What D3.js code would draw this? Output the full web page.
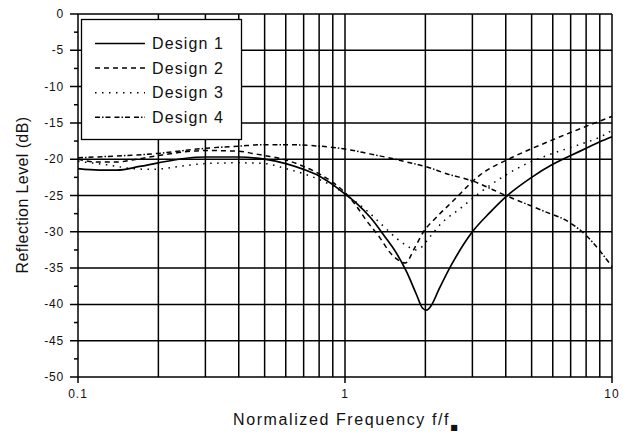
<!DOCTYPE html>
<html>
<head>
<meta charset="utf-8">
<script src="https://cdn.jsdelivr.net/npm/d3@7"></script>
<style>
  body { margin: 0; background: #fff; }
  text { font-family: "Liberation Sans", Arial, sans-serif; fill: #111; }
</style>
</head>
<body>
<div id="chart_div"></div>
<script>
// frequency (f/f0) and reflection level (dB)
var freq1 = [0.1, 0.12, 0.14, 0.17, 0.2, 0.25, 0.3, 0.4, 0.5, 0.6, 0.7, 0.8, 0.9, 1.0, 1.1, 1.25, 1.4, 1.55, 1.7, 1.85, 1.95, 2.02, 2.1, 2.25, 2.5, 3.0, 3.5, 4.0, 5.0, 6.0, 7.0, 8.0, 9.0, 10];
var level1 = [-21.3, -21.5, -21.5, -21.0, -20.5, -19.9, -19.7, -19.7, -20.0, -20.6, -21.4, -22.3, -23.5, -24.8, -26.0, -28.1, -30.5, -32.8, -35.5, -38.6, -40.5, -40.8, -40.2, -37.9, -34.6, -30.0, -27.3, -25.2, -22.5, -20.7, -19.5, -18.5, -17.6, -16.9];

var freq2 = [0.1, 0.12, 0.14, 0.16, 0.2, 0.25, 0.3, 0.4, 0.45, 0.5, 0.6, 0.7, 0.8, 0.9, 1.0, 1.1, 1.2, 1.35, 1.47, 1.57, 1.68, 1.83, 1.96, 2.2, 2.5, 3.2, 4.26, 5.76, 7.6, 10];
var level2 = [-20.0, -20.4, -20.4, -20.1, -19.5, -19.0, -18.8, -18.9, -19.2, -19.5, -20.1, -21.0, -22.0, -23.2, -24.6, -26.4, -28.4, -30.8, -32.8, -33.8, -34.3, -32.1, -30.1, -28.0, -26.0, -22.2, -19.7, -17.6, -15.8, -14.1];

var freq3 = [0.1, 0.13, 0.16, 0.19, 0.25, 0.3, 0.4, 0.5, 0.6, 0.7, 0.8, 0.9, 1.0, 1.2, 1.4, 1.56, 1.7, 1.85, 1.95, 2.07, 2.3, 2.7, 3.2, 3.8, 4.8, 6.0, 7.4, 9.3, 10];
var level3 = [-20.3, -20.8, -21.3, -21.4, -20.9, -20.6, -20.5, -20.6, -21.3, -22.0, -22.8, -23.7, -24.8, -27.0, -29.3, -30.9, -31.9, -32.5, -32.0, -30.8, -28.8, -26.8, -24.6, -22.7, -20.6, -19.2, -18.1, -16.7, -16.0];

var freq4 = [0.1, 0.15, 0.2, 0.25, 0.3, 0.4, 0.5, 0.6, 0.8, 1.0, 1.25, 1.5, 1.8, 2.0, 2.4, 3.0, 4.0, 5.5, 7.0, 8.0, 9.0, 10];
var level4 = [-19.8, -19.5, -19.2, -18.8, -18.5, -18.2, -18.0, -18.0, -18.2, -18.6, -19.3, -19.9, -20.6, -21.0, -22.0, -23.0, -25.0, -27.1, -28.8, -30.5, -32.6, -34.8];

var seriesNames = ["Design 1", "Design 2", "Design 3", "Design 4"];
var yTicks = [0, -5, -10, -15, -20, -25, -30, -35, -40, -45, -50];
var xLabels = [0.1, 1, 10];

var svg = d3.select("#chart_div").append("svg")
    .attr("width", 623)
    .attr("height", 433);

var x = d3.scaleLog().domain([0.1, 10]).range([78, 612]);
var y = d3.scaleLinear().domain([-50, 0]).range([377, 14]);

// grid
var grid = svg.append("g").attr("stroke", "#000").attr("stroke-width", 1.5);
grid.selectAll("line.v")
    .data(x.ticks())
    .enter().append("line")
    .attr("x1", function (d) { return x(d); })
    .attr("x2", function (d) { return x(d); })
    .attr("y1", y(0))
    .attr("y2", function (d) { return xLabels.indexOf(d) >= 0 ? y(-50) + 6 : y(-50); });
grid.selectAll("line.h")
    .data(yTicks)
    .enter().append("line")
    .attr("x1", 70)
    .attr("x2", x(10))
    .attr("y1", function (d) { return y(d); })
    .attr("y2", function (d) { return y(d); });
// minor y ticks
grid.selectAll("line.m")
    .data(yTicks.slice(1).map(function (d) { return d + 2.5; }))
    .enter().append("line")
    .attr("x1", 74)
    .attr("x2", 78)
    .attr("y1", function (d) { return y(d); })
    .attr("y2", function (d) { return y(d); });

// tick labels
svg.append("g").selectAll("text")
    .data(yTicks)
    .enter().append("text")
    .attr("x", 64)
    .attr("y", function (d) { return y(d) + 4; })
    .attr("text-anchor", "end")
    .style("font-size", "12px")
    .style("letter-spacing", "0.8px")
    .text(function (d) { return d; });

svg.append("g").selectAll("text")
    .data(xLabels)
    .enter().append("text")
    .attr("x", function (d) { return x(d); })
    .attr("y", 398)
    .attr("text-anchor", "middle")
    .style("font-size", "12px")
    .style("letter-spacing", "1px")
    .text(function (d) { return d; });

// axis titles
svg.append("text")
    .attr("transform", "translate(28,195) rotate(-90)")
    .attr("text-anchor", "middle")
    .style("font-size", "16px")
    .style("letter-spacing", "0.4px")
    .text("Reflection Level (dB)");

var xt = svg.append("text")
    .attr("x", 233)
    .attr("y", 425)
    .style("font-size", "16px")
    .style("letter-spacing", "1.6px")
    .text("Normalized Frequency f/f");
xt.append("tspan")
    .attr("dy", 5)
    .style("font-size", "8px")
    .style("font-family", "DejaVu Sans")
    .text("■");

// curves
var dashes = [null, "5,4", "1.5,5.5", "5,2,1.5,2,5,4"];
var series = [
    d3.zip(freq1, level1),
    d3.zip(freq2, level2),
    d3.zip(freq3, level3),
    d3.zip(freq4, level4)
];
var line = d3.line()
    .x(function (d) { return x(d[0]); })
    .y(function (d) { return y(d[1]); })
    .curve(d3.curveMonotoneX);

svg.append("g").selectAll("path")
    .data(series)
    .enter().append("path")
    .attr("d", line)
    .attr("fill", "none")
    .attr("stroke", "#000")
    .attr("stroke-width", function (d, i) { return i == 0 ? 1.7 : 1.5; })
    .attr("stroke-dasharray", function (d, i) { return dashes[i]; });

// legend
var lg = svg.append("g");
lg.append("rect")
    .attr("x", 81.5)
    .attr("y", 19.5)
    .attr("width", 160)
    .attr("height", 120)
    .attr("fill", "#fff")
    .attr("stroke", "#000")
    .attr("stroke-width", 1.3);
var items = lg.selectAll("g.item")
    .data(seriesNames)
    .enter().append("g")
    .attr("transform", function (d, i) { return "translate(0," + (43.5 + i * 24.6) + ")"; });
items.append("line")
    .attr("x1", 95)
    .attr("x2", 145)
    .attr("stroke", "#000")
    .attr("stroke-width", function (d, i) { return i == 0 ? 1.7 : 1.5; })
    .attr("stroke-dasharray", function (d, i) { return dashes[i]; });
items.append("text")
    .attr("x", 152)
    .attr("y", 5.5)
    .style("font-size", "16px")
    .style("letter-spacing", "1.1px")
    .text(function (d) { return d; });
</script>
</body>
</html>
